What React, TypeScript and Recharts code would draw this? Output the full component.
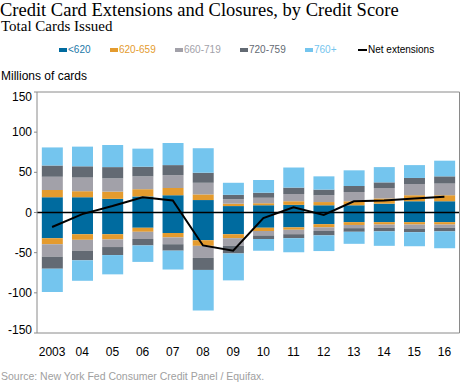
import { Bar, BarChart, Line, XAxis, YAxis, ReferenceLine } from "recharts"

const years = ["2003", "04", "05", "06", "07", "08", "09", "10", "11", "12", "13", "14", "15", "16"]

// extensions (positive) by credit score band, millions of cards
const lt620Pos = [19, 19, 17, 20, 21.5, 15.5, 8, 9, 9.5, 9, 9, 11, 14, 14]
const s620Pos = [9, 7.5, 9, 9, 9, 7, 3, 2.5, 4.5, 4, 5, 6.5, 7.5, 7.5]
const s660Pos = [16.5, 17, 16.5, 16, 16, 14.5, 5.5, 7, 9, 8.5, 11.5, 13, 14, 14.5]
const s720Pos = [14, 14, 14, 12, 12.5, 12.5, 5.5, 6, 8, 7, 7.5, 7, 7.5, 9]
const s760Pos = [22.5, 24.5, 27.5, 22.5, 27.5, 30.5, 15, 16, 25, 16.5, 19.5, 19, 16, 19.5]

// closures (negative)
const lt620Neg = [-32, -27, -27, -19, -25.5, -34.5, -27, -19, -18.5, -14.5, -12, -12, -12, -12]
const s620Neg = [-7.5, -7, -6.5, -5, -5.5, -7, -5, -4, -3, -4, -3.5, -3, -3, -3]
const s660Neg = [-15.5, -13.5, -9.5, -9, -8.5, -15, -9.5, -5.5, -5.5, -4.5, -4, -4, -5, -4]
const s720Neg = [-15, -12, -10, -8, -8, -15, -9.5, -4.5, -5, -5.5, -4.5, -4.5, -4.5, -4.5]
const s760Neg = [-29, -25.5, -24, -20.5, -23.5, -50.5, -33.5, -14.5, -17.5, -19.5, -15, -18, -17.5, -21]

const netExt = [-18, -2, 8, 19, 15, -41, -47.5, -7, 6.5, -3, 14, 15, 17.5, 19.5]

const yTicks = [-150, -100, -50, 0, 50, 100, 150]
const edgeTicks = [1, 2, 3, 4, 5, 6, 7, 8, 9, 10, 11, 12, 13]

const bands = [
    { key: "lt620", label: "<620", color: "#006b9f", text: "#1b78a8", pos: lt620Pos, neg: lt620Neg },
    { key: "s620", label: "620-659", color: "#e49b2e", text: "#e49b2e", pos: s620Pos, neg: s620Neg },
    { key: "s660", label: "660-719", color: "#a2a1a9", text: "#a2a1a9", pos: s660Pos, neg: s660Neg },
    { key: "s720", label: "720-759", color: "#636a73", text: "#636a73", pos: s720Pos, neg: s720Neg },
    { key: "s760", label: "760+", color: "#74c5ee", text: "#74c5ee", pos: s760Pos, neg: s760Neg },
]

const data = years.map((year, i) => {
    const row: Record<string, any> = { year, net: netExt[i] }
    bands.forEach((b) => {
        row[b.key + "Pos"] = b.pos[i]
        row[b.key + "Neg"] = b.neg[i]
    })
    return row
})

const legendX = [59, 110, 175, 240, 305]

const YTick = (props: any) => {
    const { x, y, payload } = props
    let dy = 4
    if (payload.value === 150) dy = 8.5
    if (payload.value === -150) dy = 1
    return (
        <text x={x} y={y + dy} textAnchor="end" fontSize={12} fill="#000" fontFamily="Liberation Sans, Arial">
            {payload.value}
        </text>
    )
}

export default function App() {
    const sans = "Liberation Sans, Arial, sans-serif"
    return (
        <div style={{ position: "absolute", left: 0, top: 0, width: 460, height: 383, background: "#fff" }}>
            <div style={{ position: "absolute", left: 0, top: 2, fontFamily: "Liberation Serif, serif", fontSize: 18.5, lineHeight: "17px", whiteSpace: "nowrap" }}>
                Credit Card Extensions and Closures, by Credit Score
            </div>
            <div style={{ position: "absolute", left: 1, top: 21, fontFamily: "Liberation Serif, serif", fontSize: 15, lineHeight: "11px", whiteSpace: "nowrap" }}>
                Total Cards Issued
            </div>
            {bands.map((b, i) => (
                <div key={b.key} style={{ position: "absolute", left: legendX[i], top: 45, fontFamily: sans, fontSize: 10, lineHeight: "10px", color: b.text, display: "flex", alignItems: "center", whiteSpace: "nowrap" }}>
                    <span style={{ display: "inline-block", width: 8, height: 4, background: b.color, marginRight: 1 }} />
                    {b.label}
                </div>
            ))}
            <div style={{ position: "absolute", left: 358, top: 45, fontFamily: sans, fontSize: 10, lineHeight: "10px", color: "#000", display: "flex", alignItems: "center", whiteSpace: "nowrap" }}>
                <span style={{ display: "inline-block", width: 9, height: 2, background: "#000", marginRight: 1 }} />
                Net extensions
            </div>
            <div style={{ position: "absolute", left: 1, top: 70, fontFamily: sans, fontSize: 12, lineHeight: "12px", whiteSpace: "nowrap" }}>
                Millions of cards
            </div>
            <div style={{ position: "absolute", left: 1, top: 371, fontFamily: sans, fontSize: 10.5, lineHeight: "10.5px", color: "#a0a0a0", whiteSpace: "nowrap" }}>
                Source: New York Fed Consumer Credit Panel / Equifax.
            </div>
            <div style={{ position: "absolute", left: 0, top: 0 }}>
                <BarChart
                    width={460}
                    height={383}
                    data={data}
                    stackOffset="sign"
                    barCategoryGap="16%"
                    margin={{ top: 91, right: 0.5, bottom: 21, left: 0 }}
                >
                    <XAxis xAxisId="top" orientation="top" dataKey="year" height={1} tick={false} tickLine={false} axisLine={{ stroke: "#8a8a8a" }} />
                    <XAxis
                        xAxisId="edge"
                        type="number"
                        domain={[0, 14]}
                        ticks={edgeTicks}
                        height={1}
                        mirror
                        tick={false}
                        tickSize={4}
                        tickLine={{ stroke: "#8a8a8a" }}
                        axisLine={{ stroke: "#8a8a8a" }}
                    />
                    <XAxis
                        dataKey="year"
                        height={29}
                        interval={0}
                        tickLine={false}
                        axisLine={false}
                        tick={{ fontSize: 12, fill: "#000", fontFamily: sans }}
                        tickMargin={8}
                    />
                    <YAxis
                        domain={[-150, 150]}
                        ticks={yTicks}
                        width={37}
                        tickSize={3}
                        tick={<YTick />}
                        tickLine={{ stroke: "#8a8a8a" }}
                        axisLine={{ stroke: "#8a8a8a" }}
                        interval={0}
                    />
                    <YAxis
                        yAxisId="r"
                        orientation="right"
                        domain={[-150, 150]}
                        ticks={yTicks}
                        width={1}
                        mirror
                        tick={false}
                        tickSize={4}
                        tickLine={{ stroke: "#8a8a8a" }}
                        axisLine={{ stroke: "#8a8a8a" }}
                    />
                    {bands.map((b) => (
                        <Bar key={b.key + "Pos"} dataKey={b.key + "Pos"} stackId="a" fill={b.color} isAnimationActive={false} />
                    ))}
                    {bands.map((b) => (
                        <Bar key={b.key + "Neg"} dataKey={b.key + "Neg"} stackId="a" fill={b.color} isAnimationActive={false} />
                    ))}
                    <ReferenceLine y={0} stroke="#000" strokeWidth={1.5} />
                    <Line dataKey="net" stroke="#000" strokeWidth={2} dot={false} type="linear" isAnimationActive={false} />
                </BarChart>
            </div>
        </div>
    )
}
